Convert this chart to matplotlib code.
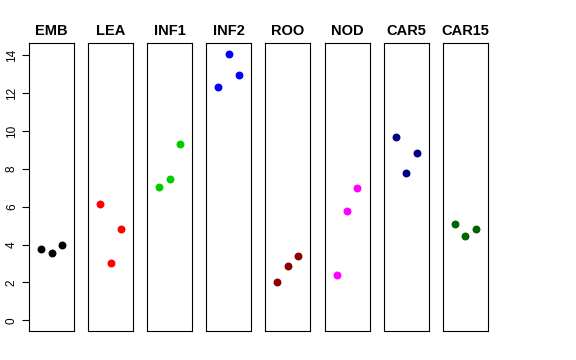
import matplotlib
matplotlib.use("Agg")
import matplotlib.pyplot as plt

plt.rcParams["font.family"] = ["Liberation Sans", "DejaVu Sans"]

groups = ["EMB", "LEA", "INF1", "INF2", "ROO", "NOD", "CAR5", "CAR15"]
colors = ["black", "red", "#00CD00", "blue", "#8B0000", "magenta", "#000080", "#006400"]
values = [
    [3.79, 3.56, 3.98],
    [6.16, 3.03, 4.81],
    [7.04, 7.47, 9.30],
    [12.31, 14.08, 12.94],
    [2.03, 2.86, 3.40],
    [2.40, 5.78, 6.99],
    [9.70, 7.80, 8.84],
    [5.08, 4.44, 4.81],
]
reps = [1, 2, 3]
yticks = [0, 2, 4, 6, 8, 10, 12, 14]

ymax = max(max(v) for v in values)
ypad = 0.04 * ymax

fig = plt.figure(figsize=(5.76, 3.6), dpi=100)
W, H = 576.0, 360.0
for i, (g, c, v) in enumerate(zip(groups, colors, values)):
    left = 29 + i * 59.1
    ax = fig.add_axes([left / W, 1 - 331 / H, 45 / W, 288 / H])
    ax.scatter(reps, v, color=c, s=22, zorder=3)
    ax.set_xlim(-0.16, 4.16)
    ax.set_ylim(-ypad, ymax + ypad)
    ax.set_xticks([])
    ax.set_title(g, fontsize=10.5, fontweight="bold", pad=6)
    for s in ax.spines.values():
        s.set_linewidth(0.8)
    if i == 0:
        ax.set_yticks(yticks)
        ax.tick_params(axis="y", labelsize=8.5, length=5, width=0.8, pad=3)
        for t in ax.get_yticklabels():
            t.set_rotation(90)
            t.set_va("center")
    else:
        ax.set_yticks([])

fig.savefig("out.png", dpi=100)
